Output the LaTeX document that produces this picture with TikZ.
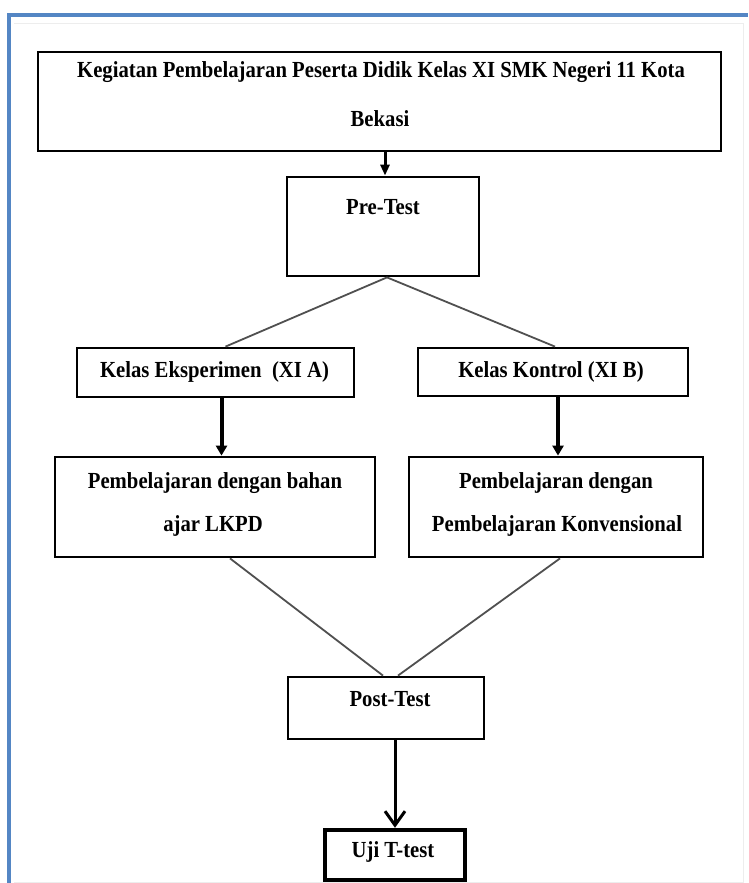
\documentclass[tikz,border=0pt]{standalone}
\usepackage{fontspec}
\setmainfont{Liberation Serif}[FakeStretch=0.9]
\usetikzlibrary{arrows.meta}
\definecolor{frameblue}{RGB}{84,134,196}
\definecolor{diaggray}{RGB}{80,80,80}
\begin{document}
\begin{tikzpicture}[x=1pt,y=-1pt,
  box/.style={draw=black, line width=2.8pt, rectangle, inner sep=0pt, fill=white},
  txt/.style={inner sep=0pt, font=\fontsize{23}{27}\selectfont\bfseries, anchor=center},
  diag/.style={draw=diaggray, line width=1.8pt},
  arrsmall/.style={draw=black, line width=3pt, -{Triangle[length=11pt,width=9pt]}},
  arrmid/.style={draw=black, line width=4pt, -{Triangle[length=10pt,width=11pt]}},
  arropen/.style={draw=black, line width=3pt, -{Straight Barb[length=14pt,width=20pt,line width=3pt]}}
]
\useasboundingbox (0,0) rectangle (748,883);
\fill[white] (0,0) rectangle (748,883);
% frame
\draw[black!7, line width=1pt] (14,882) -- (743,882) -- (743,24) -- (14,24);
\draw[frameblue, line width=3.5pt] (9,883) -- (9,15) -- (748,15);

% boxes
\node[box, minimum width=683pt, minimum height=99pt] (top) at (379.5,101.5) {};
\node[box, minimum width=192pt, minimum height=99pt] (pre) at (383,226.5) {};
\node[box, minimum width=277pt, minimum height=49pt] (ke) at (215.5,372.5) {};
\node[box, minimum width=270pt, minimum height=48pt] (kk) at (553,372) {};
\node[box, minimum width=320pt, minimum height=100pt] (le) at (215,507) {};
\node[box, minimum width=294pt, minimum height=100pt] (lk) at (556,507) {};
\node[box, minimum width=196pt, minimum height=62pt] (post) at (386,708) {};
\node[box, line width=4.5pt, minimum width=140pt, minimum height=50pt] (uji) at (395,855) {};

% texts
\node[txt] (t1a) at (381,72) {Kegiatan Pembelajaran Peserta Didik Kelas XI SMK Negeri 11 Kota};
\node[txt] (t1b) at (380,119) {Bekasi};
\node[txt] (t2) at (383,207) {Pre-Test};
\node[txt] (t3) at (214.5,372) {Kelas Eksperimen\ \ (XI A)};
\node[txt] (t4) at (551,372) {Kelas Kontrol (XI B)};
\node[txt] (t5a) at (215,483) {Pembelajaran dengan bahan};
\node[txt] (t5b) at (213,526) {ajar LKPD};
\node[txt] (t6a) at (556,483) {Pembelajaran dengan};
\node[txt] (t6b) at (557,526) {Pembelajaran Konvensional};
\node[txt] (t7) at (390,699) {Post-Test};
\node[txt] (t8) at (393,852) {Uji T-test};

% connectors
\draw[arrsmall] ([xshift=2pt]top.south -| pre.north) -- ([xshift=2pt]pre.north);
\draw[diag] ([xshift=4pt]pre.south) -- ([xshift=10pt]ke.north);
\draw[diag] ([xshift=4pt]pre.south) -- ([xshift=2pt]kk.north);
\draw[arrmid] ([xshift=6pt]ke.south) -- ([xshift=6pt]ke.south |- le.north);
\draw[arrmid] ([xshift=2pt]lk.north |- kk.south) -- ([xshift=2pt]lk.north);
\draw[diag] ([xshift=15pt]le.south) -- ([xshift=-3pt]post.north);
\draw[diag] ([xshift=4pt]lk.south) -- ([xshift=12pt]post.north);
\draw[arropen] (uji.north |- post.south) -- (uji.north);
\end{tikzpicture}
\end{document}
